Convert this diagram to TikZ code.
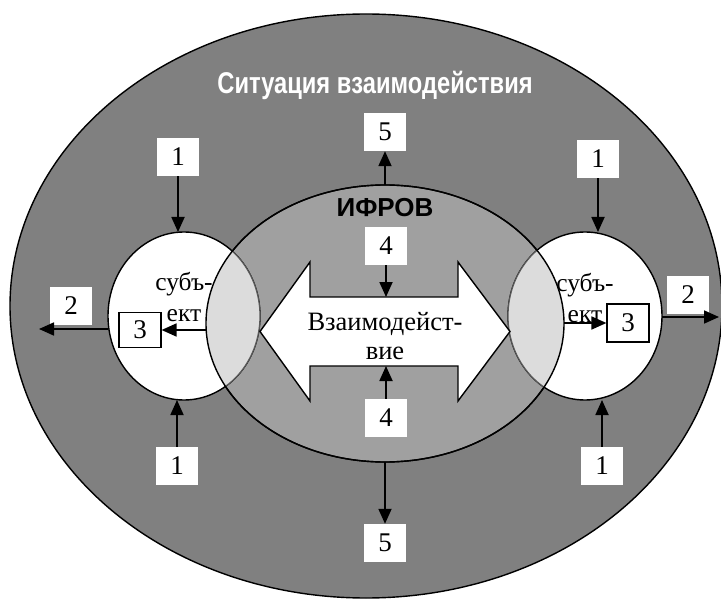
\documentclass[tikz,border=0pt]{standalone}
\usepackage{fontspec}
\setmainfont{Liberation Serif}
\newfontfamily\headfont[FakeStretch=0.79]{Liberation Sans}
\newfontfamily\labelfont{Liberation Sans}
\usetikzlibrary{shapes.geometric,arrows.meta}
\definecolor{outergray}{HTML}{808080}
\definecolor{innergray}{HTML}{A0A0A0}
\definecolor{lensgray}{HTML}{DCDCDC}
\begin{document}
\begin{tikzpicture}[x=1pt,y=-1pt,
		zone/.style={ellipse,draw,line width=1.4pt,inner sep=0pt,outer sep=0pt},
		numbox/.style={fill=white,minimum width=42pt,minimum height=38pt,inner sep=0pt,font=\fontsize{27}{30}\selectfont},
		arr/.style={line width=1.8pt,-{Triangle[length=15pt,width=13pt]}}]
			\useasboundingbox (0,0) rectangle (721,599);
			% zones
			\node[zone,fill=outergray,minimum width=712pt,minimum height=584pt] (sit) at (366,306) {};
			\node[zone,fill=innergray,minimum width=358pt,minimum height=277pt] (ifr) at (385,323.5) {};
			\node[zone,fill=white,minimum width=152pt,minimum height=168pt] (sl) at (184,316) {};
			\node[zone,fill=white,minimum width=154pt,minimum height=168pt] (sr) at (585,316) {};
			\begin{scope}
				\clip (385,323.5) ellipse [x radius=179,y radius=138.5];
				\fill[lensgray] (184,316) ellipse [x radius=76,y radius=84];
				\fill[lensgray] (585,316) ellipse [x radius=77,y radius=84];
				\draw[black!65,line width=1.2pt] (184,316) ellipse [x radius=76,y radius=84];
				\draw[black!65,line width=1.2pt] (585,316) ellipse [x radius=77,y radius=84];
			\end{scope}
			\draw[line width=1.4pt] (385,323.5) ellipse [x radius=179,y radius=138.5];
			% interaction arrow
			\draw[line width=1.4pt,fill=white] (260,331.5) -- (310,262) -- (310,297) -- (458,297) -- (458,262) -- (510,331.5)
				-- (458,401) -- (458,366) -- (310,366) -- (310,401) -- cycle;
			\coordinate (shaftT) at (385,297);
			\coordinate (shaftB) at (385,366);
			\node[align=center,font=\fontsize{26.5}{29}\selectfont] (inter) at (385,336) {Взаимодейст-\\вие};
			% texts
			\node[anchor=base,text=white,font=\headfont\bfseries\fontsize{30}{36}\selectfont] (title) at (375,94) {Ситуация взаимодействия};
			\node[anchor=base,font=\labelfont\bfseries\fontsize{26}{30}\selectfont] (ifrov) at (385,217) {ИФРОВ};
			\node[align=center,font=\fontsize{25.5}{31}\selectfont] (txl) at (184,297) {субъ-\\ект};
			\node[align=center,font=\fontsize{25.5}{31}\selectfont] (txr) at (585,298) {субъ-\\ект};
			% number boxes
			\node[numbox] (t5) at (385,132) {5};
			\node[numbox] (t4) at (386,246) {4};
			\node[numbox] (b4) at (386,418) {4};
			\node[numbox] (b5) at (385,543) {5};
			\node[numbox] (l1t) at (178,157) {1};
			\node[numbox] (l1b) at (177,466) {1};
			\node[numbox] (r1t) at (598,159) {1};
			\node[numbox] (r1b) at (602,466) {1};
			\node[numbox] (l2) at (71,306) {2};
			\node[numbox] (r2) at (688,295) {2};
			\node[numbox,draw,line width=1.2pt,minimum height=35pt] (l3) at (140,330) {3};
			\node[numbox,draw,line width=1.2pt] (r3) at (628,323) {3};
			% arrows
			\coordinate (l2end) at (39,329);
			\coordinate (r2end) at (719,317);
			\draw[arr] (ifr.north) -- (t5.south);
			\draw[arr] (ifr.south) -- (b5.north);
			\draw[arr] (t4.south) -- (t4.south |- shaftT);
			\draw[arr] (b4.north) -- (b4.north |- shaftB);
			\draw[arr] (l1t.south) -- (l1t.south |- sl.north);
			\draw[arr] (l1b.north) -- (l1b.north |- sl.south);
			\draw[arr] (r1t.south) -- (r1t.south |- sr.north);
			\draw[arr] (r1b.north) -- (r1b.north |- sr.south);
			\draw[arr] (sl.west |- l2end) -- (l2end);
			\draw[arr] (ifr.west |- l3) -- (l3.east);
			\draw[arr] (sr.east |- r2end) -- (r2end);
			\draw[arr] (ifr.east |- r3) -- (r3.west);
		\end{tikzpicture}
\end{document}
